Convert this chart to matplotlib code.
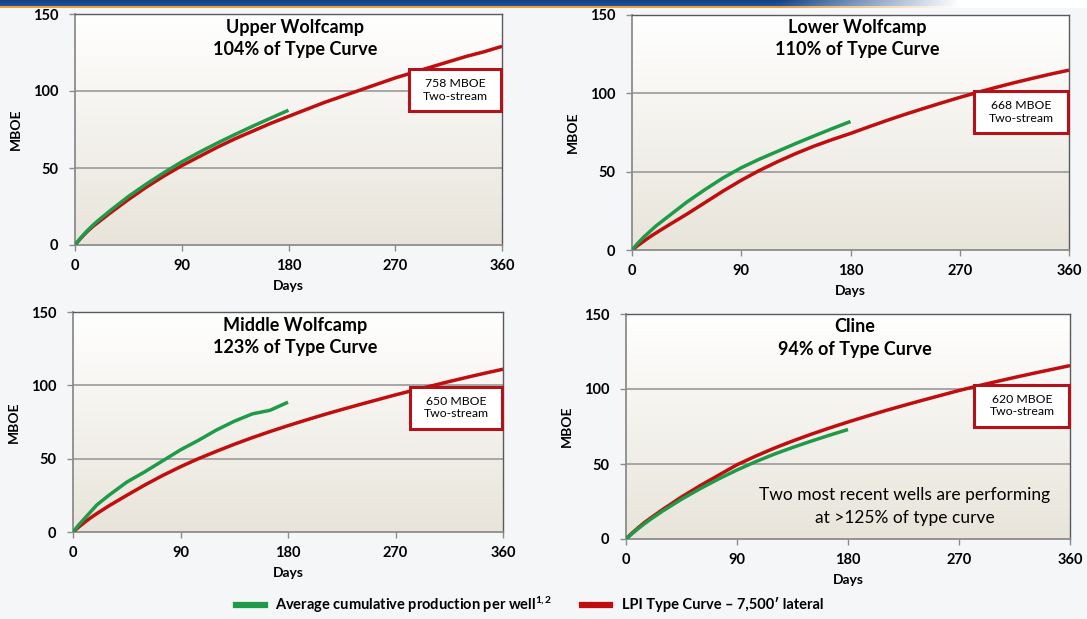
import numpy as np
import matplotlib
matplotlib.use("Agg")
import matplotlib.pyplot as plt
from matplotlib.patches import Rectangle
from matplotlib.lines import Line2D

plt.rcParams["font.family"] = ["Lato", "DejaVu Sans"]
plt.rcParams["mathtext.fontset"] = "custom"
plt.rcParams["mathtext.rm"] = "Lato:bold"
plt.rcParams["mathtext.it"] = "Lato:bold:italic"

# ---- data -------------------------------------------------------------
type_days = [0, 5, 10, 15, 20, 30, 45, 60, 75, 90, 105, 120, 135, 150, 165, 180,
             195, 210, 225, 240, 255, 270, 285, 300, 315, 330, 345, 360]
actual_days = [0, 5, 10, 15, 20, 30, 45, 60, 75, 90, 105, 120, 135, 150, 165, 180]

upper_type = [0, 4.5, 8.5, 12, 15, 21, 29.5, 37.5, 44.8, 51.5, 57.5, 63.5, 69, 74,
              79, 83.5, 88, 92.5, 96.5, 100.5, 104.5, 108.5, 112, 115.5, 119,
              122.5, 125.5, 129]
upper_actual = [0, 4.8, 9, 12.8, 16.2, 22.5, 31.5, 39.5, 47, 54, 60.3, 66.2, 71.8,
                77.2, 82.4, 87.5]

lower_type = [0, 3, 5.8, 8.5, 11, 15.8, 22.8, 30.2, 37.6, 44.5, 50.8, 56.4, 61.6,
              66.3, 70.5, 74.4, 78.6, 82.7, 86.6, 90.3, 93.9, 97.4, 100.7, 103.8,
              106.8, 109.6, 112.3, 114.8]
lower_actual = [0, 4.5, 8.5, 12, 15.5, 21.5, 30.5, 38.5, 46, 52.5, 58, 63, 68,
                72.8, 77.5, 82]

middle_type = [0, 3.5, 6.8, 9.8, 12.6, 17.8, 25, 32, 38.5, 44.5, 50, 55, 59.8, 64.3,
               68.5, 72.5, 76.3, 80, 83.5, 86.9, 90.2, 93.5, 96.6, 99.6, 102.6,
               105.5, 108.3, 111]
middle_actual = [0, 5, 9.5, 14, 18.5, 25, 34, 41, 48.5, 56, 62.5, 69.5, 75.5, 80.5,
                 83, 88.5]

cline_type = [0, 4, 7.6, 11, 14, 19.8, 28, 35.5, 42.5, 49.5, 55.2, 60.5, 65.3, 69.8,
              74, 78, 81.8, 85.5, 89, 92.4, 95.7, 99, 102, 104.9, 107.7, 110.4,
              113, 115.6]
cline_actual = [0, 3.6, 7, 10.2, 13.2, 18.8, 26.5, 33.5, 40, 46, 51.5, 56.5, 61,
                65.2, 69.2, 73]

formations = ["Upper Wolfcamp", "Lower Wolfcamp", "Middle Wolfcamp", "Cline"]
pct_of_type = ["104% of Type Curve", "110% of Type Curve", "123% of Type Curve",
               "94% of Type Curve"]
eur_labels = ["758 MBOE", "668 MBOE", "650 MBOE", "620 MBOE"]
type_series = [upper_type, lower_type, middle_type, cline_type]
actual_series = [upper_actual, lower_actual, middle_actual, cline_actual]

x_ticks = [0, 90, 180, 270, 360]
y_ticks = [0, 50, 100, 150]

# ---- layout -----------------------------------------------------------
W, H = 1087, 619
fig = plt.figure(figsize=(W / 100, H / 100), dpi=100)
fig.patch.set_facecolor("#f4f6f8")

# panel rectangles in pixels: left, right, top, bottom
panels = [(75, 502, 14, 245), (632, 1069, 15, 250),
          (73, 503, 312, 532), (626, 1070, 314, 539)]
# annotation box vertical extent (MBOE)
box_y = [(87, 114), (74.5, 101.3), (70.4, 99), (74.9, 102.9)]

RED = "#c00d0d"
GREEN = "#1f9a48"
BOX_EDGE = "#b3121b"

# top banner
ban = fig.add_axes([0, 1 - 8 / H, 1, 8 / H])
ban.set_axis_off()
nx = 400
img = np.ones((8, nx, 3))
blue = np.array([0.10, 0.30, 0.58])
orange = np.array([0.93, 0.63, 0.22])
fade = np.clip((np.linspace(0, W, nx) - 780) / 180, 0, 1)
for r in range(8):
    base = orange if r >= 6 else blue * (0.85 + 0.05 * r)
    for c in range(3):
        img[r, :, c] = base[c] * (1 - fade) + 1.0 * fade
ban.imshow(img, aspect="auto", extent=[0, 1, 0, 1])

# plot-area background: white at the top fading to warm grey
g = np.linspace(1, 0, 256)[:, None, None]
top_col = np.array([1.0, 1.0, 1.0])
bot_col = np.array([0.91, 0.895, 0.855])
grad_img = top_col * g + bot_col * (1 - g)

for i, (l, r, t, b) in enumerate(panels):
    pw, ph = r - l, b - t
    ax = fig.add_axes([l / W, 1 - b / H, pw / W, ph / H])
    ax.set_xlim(0, 360)
    ax.set_ylim(0, 150)
    ax.imshow(grad_img, aspect="auto", extent=[0, 360, 0, 150], zorder=0)
    for yv in (50, 100):
        ax.axhline(yv, color="#a6a6a6", lw=1.4, zorder=1)
    ax.plot(type_days, type_series[i], color=RED, lw=2.5, zorder=3,
            solid_joinstyle="round", solid_capstyle="butt")
    ax.plot(actual_days, actual_series[i], color=GREEN, lw=2.5, zorder=4,
            solid_joinstyle="round", solid_capstyle="butt")

    ax.set_xticks(x_ticks)
    ax.set_yticks(y_ticks)
    ax.tick_params(axis="both", direction="out", length=4, width=1,
                   color="#8c8c8c", labelsize=10.5)
    ax.tick_params(axis="x", pad=6)
    ax.tick_params(axis="y", pad=8)
    for lab in ax.get_xticklabels() + ax.get_yticklabels():
        lab.set_fontweight("bold")
    ax.set_xlabel("Days", fontsize=10, fontweight="bold", va="center")
    ax.xaxis.set_label_coords(0.5, -41 / ph)
    ax.set_ylabel("MBOE", fontsize=10, fontweight="bold", va="center")
    ax.yaxis.set_label_coords(-59 / pw, 0.5)
    for side in ("left", "bottom"):
        ax.spines[side].set_color("#8c8c8c")
        ax.spines[side].set_linewidth(1.3)
    for side in ("top", "right"):
        ax.spines[side].set_color("#5a5a5a")
        ax.spines[side].set_linewidth(1.0)

    ax.annotate(formations[i], xy=(0.5, 1), xycoords="axes fraction",
                xytext=(5, -13 * 0.72), textcoords="offset points",
                ha="center", va="center", fontsize=13, fontweight="bold")
    ax.annotate(pct_of_type[i], xy=(0.5, 1), xycoords="axes fraction",
                xytext=(5, -35 * 0.72), textcoords="offset points",
                ha="center", va="center", fontsize=13, fontweight="bold")

    y0, y1 = box_y[i]
    ax.add_patch(Rectangle((282, y0), 77, y1 - y0, facecolor="white",
                           edgecolor=BOX_EDGE, lw=2.2, zorder=5, clip_on=False))
    ym = (y0 + y1) / 2
    ax.text(321, ym + 4.2, eur_labels[i], ha="center", va="center",
            fontsize=8.8, zorder=6)
    ax.text(321, ym - 4.2, "Two-stream", ha="center", va="center",
            fontsize=8.8, zorder=6)

    if i == 3:
        ax.text(226, 29.5, "Two most recent wells are performing",
                ha="center", va="center", fontsize=12.5, zorder=6)
        ax.text(226, 14.2, "at >125% of type curve",
                ha="center", va="center", fontsize=12.5, zorder=6)

# legend row
ly = 1 - 605 / H
fig.add_artist(Line2D([236 / W, 265 / W], [ly, ly], transform=fig.transFigure,
                      color=GREEN, lw=4.5))
fig.text(275 / W, ly, r"Average cumulative production per well$^{1,2}$",
         ha="left", va="center", fontsize=10.5, fontweight="bold")
fig.add_artist(Line2D([582 / W, 610 / W], [ly, ly], transform=fig.transFigure,
                      color=RED, lw=4.5))
fig.text(622 / W, ly, "LPI Type Curve \u2013 7,500\u2032 lateral",
         ha="left", va="center", fontsize=10.5, fontweight="bold")

fig.savefig("out.png", dpi=100, facecolor=fig.get_facecolor())
